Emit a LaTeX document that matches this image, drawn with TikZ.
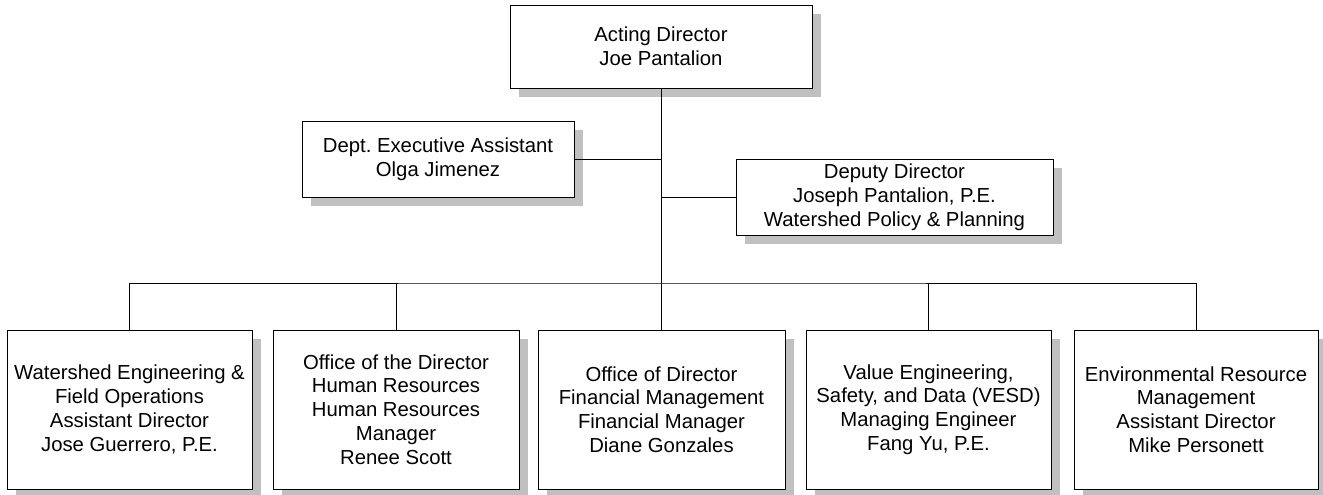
\documentclass[tikz,border=0pt]{standalone}
\usepackage{fontspec}
\setmainfont{Liberation Sans}
\usetikzlibrary{shadows}
\definecolor{shadowgray}{HTML}{C0C0C0}
\frenchspacing
\begin{document}
\begin{tikzpicture}[x=1pt,y=-1pt,
  orgbox/.style={draw=black, line width=0.9pt, fill=white, inner sep=0pt,
    align=center, font=\fontsize{20.3}{23.8}\selectfont,
    drop shadow={shadow xshift=9pt, shadow yshift=-9pt, fill=shadowgray, opacity=1}},
  link/.style={draw=black, line width=1pt}]
\useasboundingbox (0,0) rectangle (1323,495);

% top level
\node[orgbox, minimum width=302pt, minimum height=83pt] (dir) at (661,46.5)
  {Acting Director\\Joe Pantalion};

% staff positions
\node[orgbox, minimum width=272pt, minimum height=76pt] (exec) at (438,159)
  {Dept. Executive Assistant\\Olga Jimenez};
\node[orgbox, minimum width=317pt, minimum height=76pt] (dep) at (894.5,197)
  {Deputy Director\\Joseph Pantalion, P.E.\\Watershed Policy \& Planning};

% divisions
\node[orgbox, minimum width=245pt, minimum height=159pt] (weo) at (129.5,409.5)
  {Watershed Engineering \&\\Field Operations\\Assistant Director\\Jose Guerrero, P.E.};
\node[orgbox, minimum width=246pt, minimum height=159pt] (hr) at (396,409.5)
  {Office of the Director\\Human Resources\\Human Resources\\Manager\\Renee Scott};
\node[orgbox, minimum width=247pt, minimum height=159pt] (fin) at (661.5,409.5)
  {Office of Director\\Financial Management\\Financial Manager\\Diane Gonzales};
\node[orgbox, minimum width=245pt, minimum height=159pt] (vesd) at (928.5,409.5)
  {Value Engineering,\\Safety, and Data (VESD)\\Managing Engineer\\Fang Yu, P.E.};
\node[orgbox, minimum width=244pt, minimum height=159pt] (erm) at (1196,409.5)
  {Environmental Resource\\Management\\Assistant Director\\Mike Personett};

% connectors
\coordinate (busmid) at (661,283);
\coordinate (execj) at (661,159);
\coordinate (depj) at (661,197);
\draw[link] (dir.south) -- (busmid);
\draw[link] (exec.east) -- (execj);
\draw[link] (depj) -- (dep.west);
\draw[link] (weo.north) |- (busmid) -| (erm.north);
\draw[link] (hr.north) -- (hr.north |- busmid);
\draw[link] (fin.north) -- (fin.north |- busmid);
\draw[link] (vesd.north) -- (vesd.north |- busmid);
\end{tikzpicture}
\end{document}
